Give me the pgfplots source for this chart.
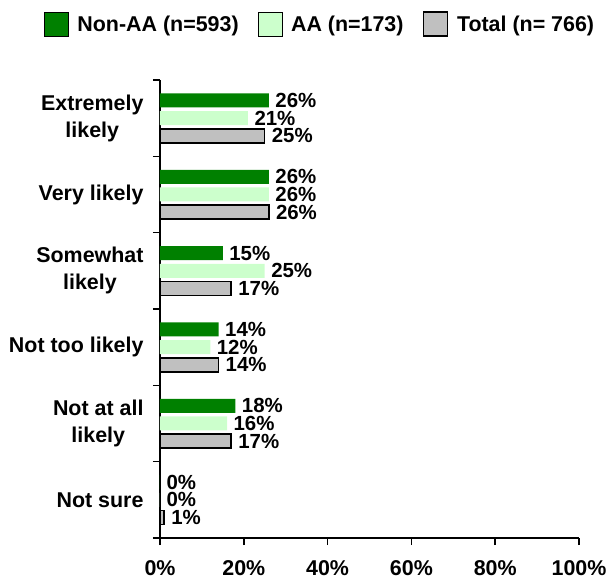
\documentclass[border=0pt]{standalone}
\usepackage{fontspec}
\setmainfont{Liberation Sans}
\usepackage{pgfplots}
\pgfplotsset{compat=1.18}
\definecolor{nonaa}{RGB}{0,128,0}
\definecolor{aa}{RGB}{204,255,204}
\definecolor{total}{RGB}{192,192,192}
\newcommand{\lbl}{\fontsize{21.5}{27}\selectfont\bfseries}
\newcommand{\vlbl}{\fontsize{20.5}{24}\selectfont\bfseries}
\begin{document}
\begin{tikzpicture}
\useasboundingbox (-160bp,-43bp) rectangle (448bp,538bp);
\begin{axis}[
  xbar, bar width=14bp,
  scale only axis, width=419bp, height=458bp,
  xmin=0, xmax=100, ymin=-0.5, ymax=5.5,
  axis x line*=bottom, axis y line*=left,
  axis line style={line width=1.6bp, -},
  xtick={0,20,...,100},
  xticklabel={\pgfmathprintnumber{\tick}\%},
  ytick={0,...,5},
  yticklabels={Not sure, Not at all\\likely, Not too likely, Somewhat\\likely, Very likely, Extremely\\likely},
  yticklabel style={align=center, xshift=-6bp},
  xticklabel style={yshift=-12bp},
  minor ytick={-0.5,0.5,...,5.5},
  tick align=outside,
  major tick length=7bp, minor tick length=7bp,
  tick style={line width=1.6bp, black},
  every major y tick/.append style={draw=none},
  ticklabel style={font=\lbl},
  /pgf/number format/assume math mode=true,
  clip=false,
  nodes near coords={\pgfmathprintnumber{\pgfplotspointmeta}\%},
  nodes near coords style={font=\vlbl, text=black, anchor=west, xshift=3bp},
  legend columns=3,
  legend style={draw=none, fill=none, font=\lbl, at={(0.382,1.122)}, anchor=center,
    /tikz/every even column/.append style={column sep=17bp},
    /tikz/every odd column/.append style={column sep=7bp}},
  legend image code/.code={\draw[#1] (0bp,-12bp) rectangle (24bp,12bp);},
]
\addplot[fill=nonaa, draw=none, bar shift=17.7bp] coordinates {
  (0,0) (18,1) (14,2) (15,3) (26,4) (26,5)};
\addlegendentry{Non-AA (n=593)}
\addplot[fill=aa, draw=none, bar shift=0bp] coordinates {
  (0,0) (16,1) (12,2) (25,3) (26,4) (21,5)};
\addlegendentry{AA (n=173)}
\addplot[fill=total, draw=black, line width=1.5bp, bar shift=-17.7bp] coordinates {
  (1,0) (17,1) (14,2) (17,3) (26,4) (25,5)};
\addlegendentry{Total (n= 766)}
\end{axis}
\end{tikzpicture}
\end{document}
